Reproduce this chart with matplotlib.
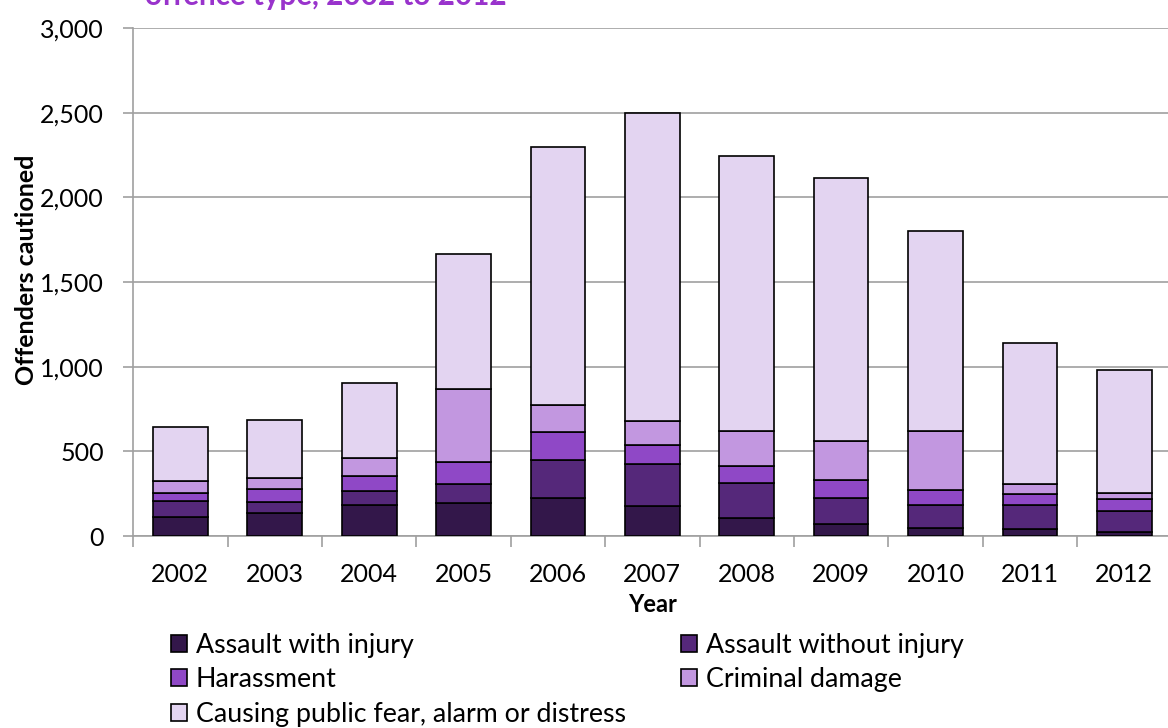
import numpy as np
import matplotlib.pyplot as plt
from matplotlib.ticker import FuncFormatter, FixedLocator

years = ['2002', '2003', '2004', '2005', '2006', '2007', '2008', '2009', '2010', '2011', '2012']
assault_injury = [115, 137, 183, 194, 226, 181, 108, 73, 51, 45, 22]
assault_no_injury = [95, 65, 86, 112, 226, 247, 204, 153, 132, 138, 125]
harassment = [45, 75, 89, 132, 161, 112, 102, 104, 88, 66, 73]
criminal_damage = [73, 67, 102, 430, 161, 138, 207, 232, 350, 59, 35]
public_fear = [314, 341, 447, 800, 1524, 1822, 1624, 1553, 1182, 835, 729]

labels = ['Assault with injury', 'Assault without injury', 'Harassment',
          'Criminal damage', 'Causing public fear, alarm or distress']
colors = ['#33174a', '#55287a', '#8f48c6', '#c297e0', '#e3d4f1']
series = [assault_injury, assault_no_injury, harassment, criminal_damage, public_fear]

plt.rcParams['font.family'] = ['Lato', 'DejaVu Sans']

fig = plt.figure(figsize=(11.68, 7.28), dpi=100)
ax = fig.add_axes([0.114, 0.2635, 0.889, 0.698])

x = np.arange(len(years))
bottom = np.zeros(len(years))
handles = []
for vals, col, lab in zip(series, colors, labels):
    b = ax.bar(x, vals, 0.58, bottom=bottom, color=col, edgecolor='black',
               linewidth=1.2, label=lab, zorder=3)
    handles.append(b)
    bottom += np.array(vals)

ax.set_xlim(-0.5, len(years) - 0.5)
ax.set_ylim(0, 3000)
ax.set_yticks(np.arange(0, 3001, 500))
ax.yaxis.set_major_formatter(FuncFormatter(lambda v, p: f'{int(v):,}'))
ax.set_xticks(x)
ax.set_xticklabels(years)
ax.xaxis.set_minor_locator(FixedLocator(np.arange(-0.5, len(years), 1)))
ax.tick_params(axis='x', which='major', length=0, pad=19, labelsize=18)
ax.tick_params(axis='x', which='minor', length=8, color='#a0a0a0', width=1.2)
ax.tick_params(axis='y', length=7, color='#a0a0a0', width=1.2, labelsize=18, pad=14)

ax.grid(axis='y', color='#a0a0a0', linewidth=1.2, zorder=0)
for s in ['top', 'right']:
    ax.spines[s].set_visible(False)
ax.spines['left'].set_color('#a0a0a0')
ax.spines['bottom'].set_color('#a0a0a0')
ax.spines['left'].set_linewidth(1.2)
ax.spines['bottom'].set_linewidth(1.2)

ax.set_ylabel('Offenders cautioned', fontsize=18, fontweight='bold')
ax.yaxis.set_label_coords(-0.092, 0.525)
ax.set_xlabel('Year', fontsize=17, fontweight='bold', labelpad=5)

order = [0, 2, 4, 1, 3]
fig.legend([handles[i] for i in order], [labels[i] for i in order],
           ncol=2, loc='upper left', bbox_to_anchor=(0.146, 0.131),
           frameon=False, fontsize=19.3, handlelength=0.6, handleheight=0.6,
           handletextpad=0.35, columnspacing=2.05, labelspacing=0.36,
           borderaxespad=0, borderpad=0)

fig.text(0.124, 0.993, 'offence type, 2002 to 2012', color='#9933cc',
         fontsize=21.3, fontweight='bold', va='baseline', ha='left')

fig.savefig('out.png', dpi=100)
